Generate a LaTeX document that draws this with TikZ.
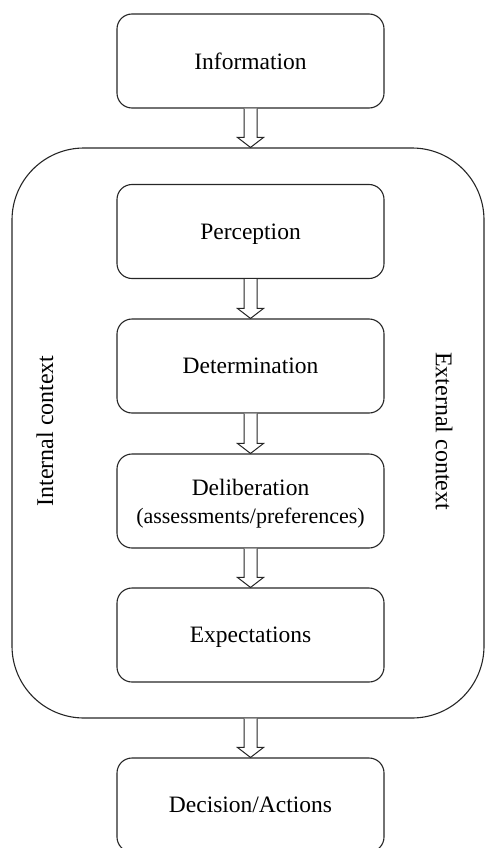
\documentclass[tikz,border=0pt]{standalone}
\usepackage{fontspec}
\setmainfont{Liberation Serif}
\usetikzlibrary{calc}
\begin{document}
\begin{tikzpicture}[x=1pt,y=-1pt,
  stage/.style={draw=black!85, line width=1.1pt, rounded corners=15pt, minimum width=267pt, minimum height=94pt, inner sep=0pt, align=center, text depth=0pt, font=\fontsize{23.5}{27}\selectfont},
  side/.style={font=\fontsize{24}{28}\selectfont},
  blk/.style={draw=black!85, line width=1pt, fill=white, line join=miter}]
\useasboundingbox (0,0) rectangle (485,848);
\node[draw=black!85, line width=1.1pt, rounded corners=72pt, minimum width=472pt, minimum height=570pt, inner sep=0pt] (ctx) at (248,433) {};
\node[stage] (info) at (250.5,61) {Information};
\node[stage] (perc) at (250.5,231.5) {Perception};
\node[stage] (det) at (250.5,366) {Determination};
\node[stage] (delib) at (250.5,501) {Deliberation\\[1pt]{\fontsize{22}{25}\selectfont(assessments/preferences)}};
\node[stage] (expt) at (250.5,635) {Expectations};
\node[stage] (dec) at (250.5,805) {Decision/Actions};
\node[side, rotate=90] (int) at (45,431) {Internal context};
\node[side, rotate=-90] (ext) at (444,431) {External context};
\newcommand{\blockarr}[3]{%
  \coordinate (t) at (#3 |- #2.north);
  \coordinate (s) at (#3 |- #1.south);
  \draw[blk] ($(s)+(-6.5,0)$) -- ($(t)+(-6.5,-10)$) -- ($(t)+(-13,-10)$) -- (t) -- ($(t)+(13,-10)$) -- ($(t)+(6.5,-10)$) -- ($(s)+(6.5,0)$);}
\blockarr{info}{ctx}{info.south}
\blockarr{perc}{det}{det.north}
\blockarr{det}{delib}{delib.north}
\blockarr{delib}{expt}{expt.north}
\blockarr{ctx}{dec}{dec.north}
\end{tikzpicture}
\end{document}
